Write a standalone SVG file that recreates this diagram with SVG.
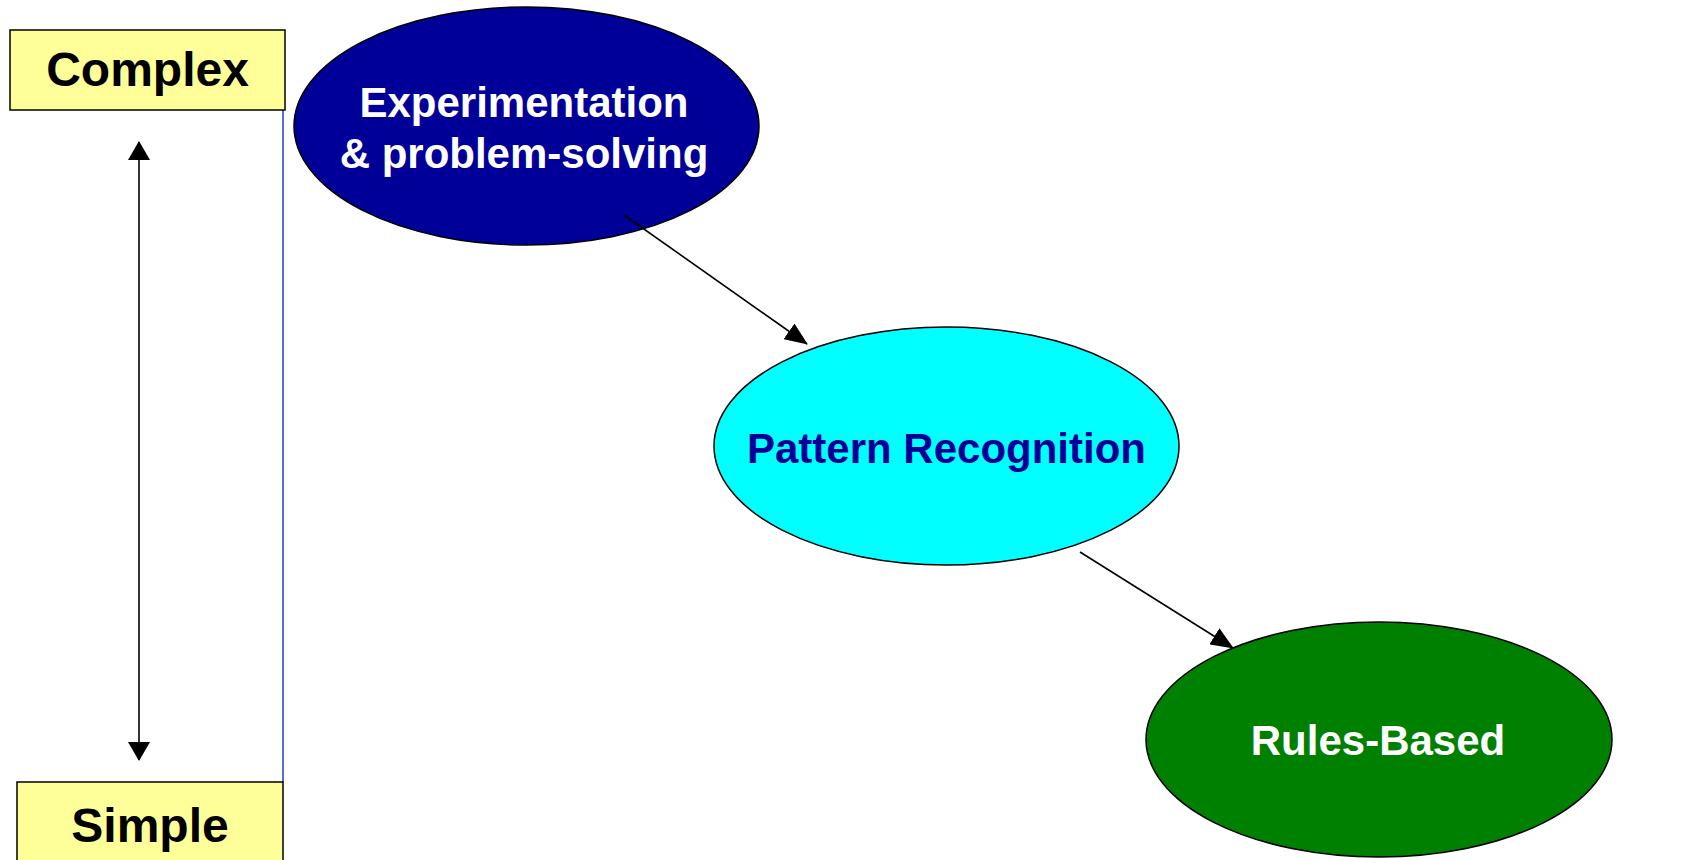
<svg xmlns="http://www.w3.org/2000/svg" width="1696" height="860" viewBox="0 0 1696 860">
  <style>
    .label { font-family: "Liberation Sans", Arial, sans-serif; font-weight: bold; text-anchor: middle; }
    .box { fill: #ffff99; stroke: #000; stroke-width: 1.5; }
    .oval { stroke: #000; stroke-width: 1.5; }
    .conn { stroke: #000; stroke-width: 1.6; fill: none; }
  </style>
  <defs>
    <marker id="arrow" markerUnits="userSpaceOnUse" markerWidth="23" markerHeight="19" refX="22" refY="9.5" orient="auto">
      <path d="M0,0 L23,9.5 L0,19 z" fill="#000"/>
    </marker>
    <marker id="scaleArrow" markerUnits="userSpaceOnUse" markerWidth="19" markerHeight="22" refX="18" refY="11" orient="auto-start-reverse">
      <path d="M0,0 L19,11 L0,22 z" fill="#000"/>
    </marker>
  </defs>

  <rect width="1696" height="860" fill="#fff"/>

  <!-- complexity scale on the left -->
  <line x1="283" y1="110" x2="283" y2="782" stroke="#1a3fd0" stroke-width="1.5"/>

  <g id="complex">
    <rect class="box" x="10" y="30" width="275" height="80"/>
    <text class="label" x="147.5" y="86" font-size="48" fill="#000">Complex</text>
  </g>

  <g id="simple">
    <rect class="box" x="17" y="782" width="266" height="90"/>
    <text class="label" x="150" y="842" font-size="48" fill="#000">Simple</text>
  </g>

  <g id="experimentation">
    <ellipse class="oval" cx="526.5" cy="126" rx="232.5" ry="119" fill="#000099"/>
    <text class="label" x="524" y="117" font-size="42" fill="#fff">Experimentation</text>
    <text class="label" x="524" y="168" font-size="42" fill="#fff">&amp; problem-solving</text>
  </g>

  <g id="pattern-recognition">
    <ellipse class="oval" cx="946.5" cy="446" rx="232.5" ry="119" fill="#00ffff"/>
    <text class="label" x="946.5" y="463" font-size="42" fill="#000099">Pattern Recognition</text>
  </g>

  <g id="rules-based">
    <ellipse class="oval" cx="1379" cy="739.5" rx="233" ry="117.5" fill="#008000"/>
    <text class="label" x="1378" y="755" font-size="42" fill="#fff">Rules-Based</text>
  </g>

  <g id="connectors">
    <line class="conn" x1="139" y1="142" x2="139" y2="760" marker-start="url(#scaleArrow)" marker-end="url(#scaleArrow)"/>
    <line class="conn" x1="624" y1="215" x2="807" y2="344" marker-end="url(#arrow)"/>
    <line class="conn" x1="1080" y1="552" x2="1233" y2="648" marker-end="url(#arrow)"/>
  </g>
</svg>
